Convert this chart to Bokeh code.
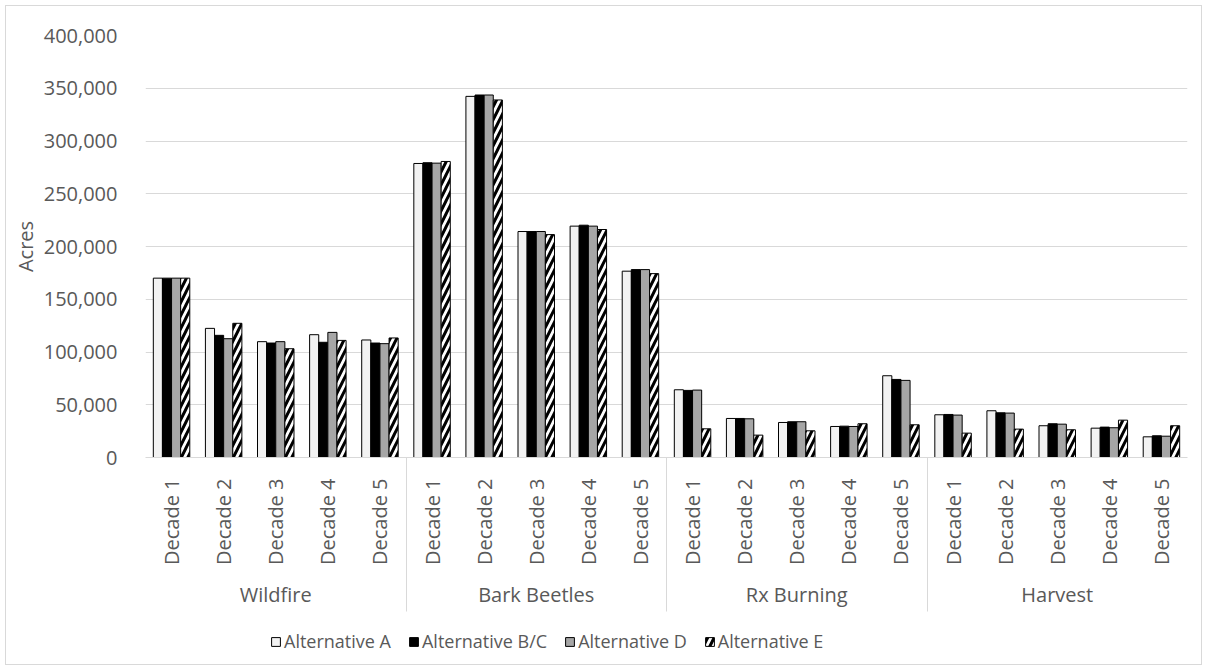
import math
from bokeh.plotting import figure
from bokeh.layouts import column
from bokeh.models import (FactorRange, ColumnDataSource, NumeralTickFormatter,
                          Legend, LegendItem, FixedTicker, CategoricalAxis)
from bokeh.transform import dodge
from bokeh.embed import file_html
from bokeh.resources import INLINE

# Acres affected per decade, by disturbance type and alternative
categories = ["Wildfire", "Bark Beetles", "Rx Burning", "Harvest"]
decades = ["Decade 1", "Decade 2", "Decade 3", "Decade 4", "Decade 5"]
series_names = ["Alternative A", "Alternative B/C", "Alternative D", "Alternative E"]

alt_a = [170000, 122400, 109800, 116400, 111400,
         278700, 342300, 214200, 219300, 176600,
         64200, 37000, 33200, 29400, 77500,
         40500, 44300, 30100, 27800, 19600]
alt_bc = [170000, 115800, 108500, 109200, 108500,
          279400, 343600, 214200, 220200, 178100,
          63600, 37000, 33900, 29700, 74000,
          40800, 42400, 32000, 28800, 20600]
alt_d = [170000, 112600, 109800, 118600, 107900,
         279000, 343600, 214200, 219300, 178100,
         63900, 36700, 33900, 29400, 73100,
         40200, 42100, 31600, 28200, 20200]
alt_e = [170000, 127200, 103100, 111000, 113300,
         280600, 338900, 211300, 216100, 174300,
         27200, 21200, 25300, 32000, 31000,
         23100, 26900, 26300, 35400, 30100]

y_ticks = [0, 50000, 100000, 150000, 200000, 250000, 300000, 350000, 400000]

factors = [(c, d) for c in categories for d in decades]
source = ColumnDataSource(data=dict(x=factors, a=alt_a, bc=alt_bc, d=alt_d, e=alt_e))

TEXT = "#595959"
GRID = "#d9d9d9"
FONT = "Open Sans"
FS = "20px"

W = 1195
p = figure(x_range=FactorRange(*factors, range_padding=0, group_padding=0,
                               factor_padding=0),
           y_range=(0, 400000),
           width=W, height=610, x_axis_location=None,
           output_backend="svg", toolbar_location=None,
           min_border_left=139, min_border_top=29, min_border_right=14,
           min_border_bottom=159)
p.outline_line_color = None
p.background_fill_color = "white"

bw = 0.175
offsets = [-1.5 * bw, -0.5 * bw, 0.5 * bw, 1.5 * bw]
cols = ["a", "bc", "d", "e"]
fills = ["#f2f2f2", "#000000", "#a6a6a6", "white"]


def bar_style(col, fill):
    kw = dict(fill_color=fill, line_color="black", line_width=1)
    if col == "e":
        kw.update(hatch_pattern="/", hatch_color="black", hatch_weight=3,
                  hatch_scale=13)
    return kw


for col, off, fill in zip(cols, offsets, fills):
    p.vbar(x=dodge("x", off, range=p.x_range), top=col, width=bw,
           source=source, **bar_style(col, fill))

# y axis
p.yaxis.ticker = FixedTicker(ticks=y_ticks)
p.yaxis.formatter = NumeralTickFormatter(format="0,0")
p.yaxis.axis_line_color = None
p.yaxis.major_tick_line_color = None
p.yaxis.minor_tick_line_color = None
p.yaxis.major_label_text_font = FONT
p.yaxis.major_label_text_font_size = FS
p.yaxis.major_label_text_color = TEXT
p.yaxis.major_label_standoff = 22
p.yaxis.axis_label = "Acres"
p.yaxis.axis_label_text_font = FONT
p.yaxis.axis_label_text_font_size = "20px"
p.yaxis.axis_label_text_font_style = "normal"
p.yaxis.axis_label_text_color = TEXT
p.yaxis.axis_label_standoff = 2

p.ygrid.grid_line_color = GRID
p.xgrid.grid_line_color = None

# Group edges: one factor per edge, with the range trimmed by half a factor on
# each side so that the edge factors sit exactly on the group boundaries.
edges = ["edge %d" % i for i in range(len(categories) + 1)]
p.extra_x_ranges = {"edges": FactorRange(*edges, range_padding=-0.5,
                                         range_padding_units="absolute",
                                         factor_padding=0),
                    "groups": FactorRange(*categories, range_padding=0,
                                          factor_padding=0)}
bound_axis = CategoricalAxis(x_range_name="edges",
                             axis_line_color=GRID, major_tick_line_color=GRID,
                             major_tick_in=-154, major_tick_out=0,
                             minor_tick_line_color=None,
                             major_label_text_font_size="0px",
                             major_label_text_alpha=0, major_label_standoff=0)
p.add_layout(bound_axis, "below")

# decade labels (inner factors)
xa = CategoricalAxis(axis_line_color=None, major_tick_line_color=None,
                     minor_tick_line_color=None,
                     major_label_orientation=math.pi / 2,
                     major_label_text_font=FONT, major_label_text_font_size=FS,
                     major_label_text_color=TEXT, major_label_standoff=15,
                     group_text_font_size="0px", group_text_color=None,
                     separator_line_color=None)
p.add_layout(xa, "below")

# disturbance type labels (outer factors)
ga = CategoricalAxis(x_range_name="groups", axis_line_color=None,
                     major_tick_line_color=None, minor_tick_line_color=None,
                     major_label_text_font=FONT, major_label_text_font_size=FS,
                     major_label_text_color=TEXT, major_label_standoff=6)
p.add_layout(ga, "below")

# legend row: swatch renderers carry a single undrawn (NaN) bar each
lg = figure(width=W, height=48, x_axis_location=None, y_axis_location=None,
            output_backend="svg", toolbar_location=None,
            min_border=0, x_range=(0, 1), y_range=(0, 1))
lg.outline_line_color = None
lg.xgrid.grid_line_color = None
lg.ygrid.grid_line_color = None
swatch = ColumnDataSource(data=dict(x=[0.5], top=[float("nan")]))
items = []
for name, col, fill in zip(series_names, cols, fills):
    r = lg.vbar(x="x", top="top", width=0.1, source=swatch, **bar_style(col, fill))
    items.append(LegendItem(label=name, renderers=[r]))
legend = Legend(items=items, orientation="horizontal", location=(125, 11),
                border_line_color=None, background_fill_alpha=0,
                label_text_font=FONT, label_text_font_size="18px",
                label_text_color=TEXT, glyph_width=11, glyph_height=11,
                label_standoff=3, spacing=17, padding=0, margin=0)
lg.add_layout(legend)

page = column(p, lg, spacing=0)
page.styles = {"margin": "5px", "border": "1px solid #d9d9d9"}

open("out.html", "w").write(file_html(page, INLINE))
